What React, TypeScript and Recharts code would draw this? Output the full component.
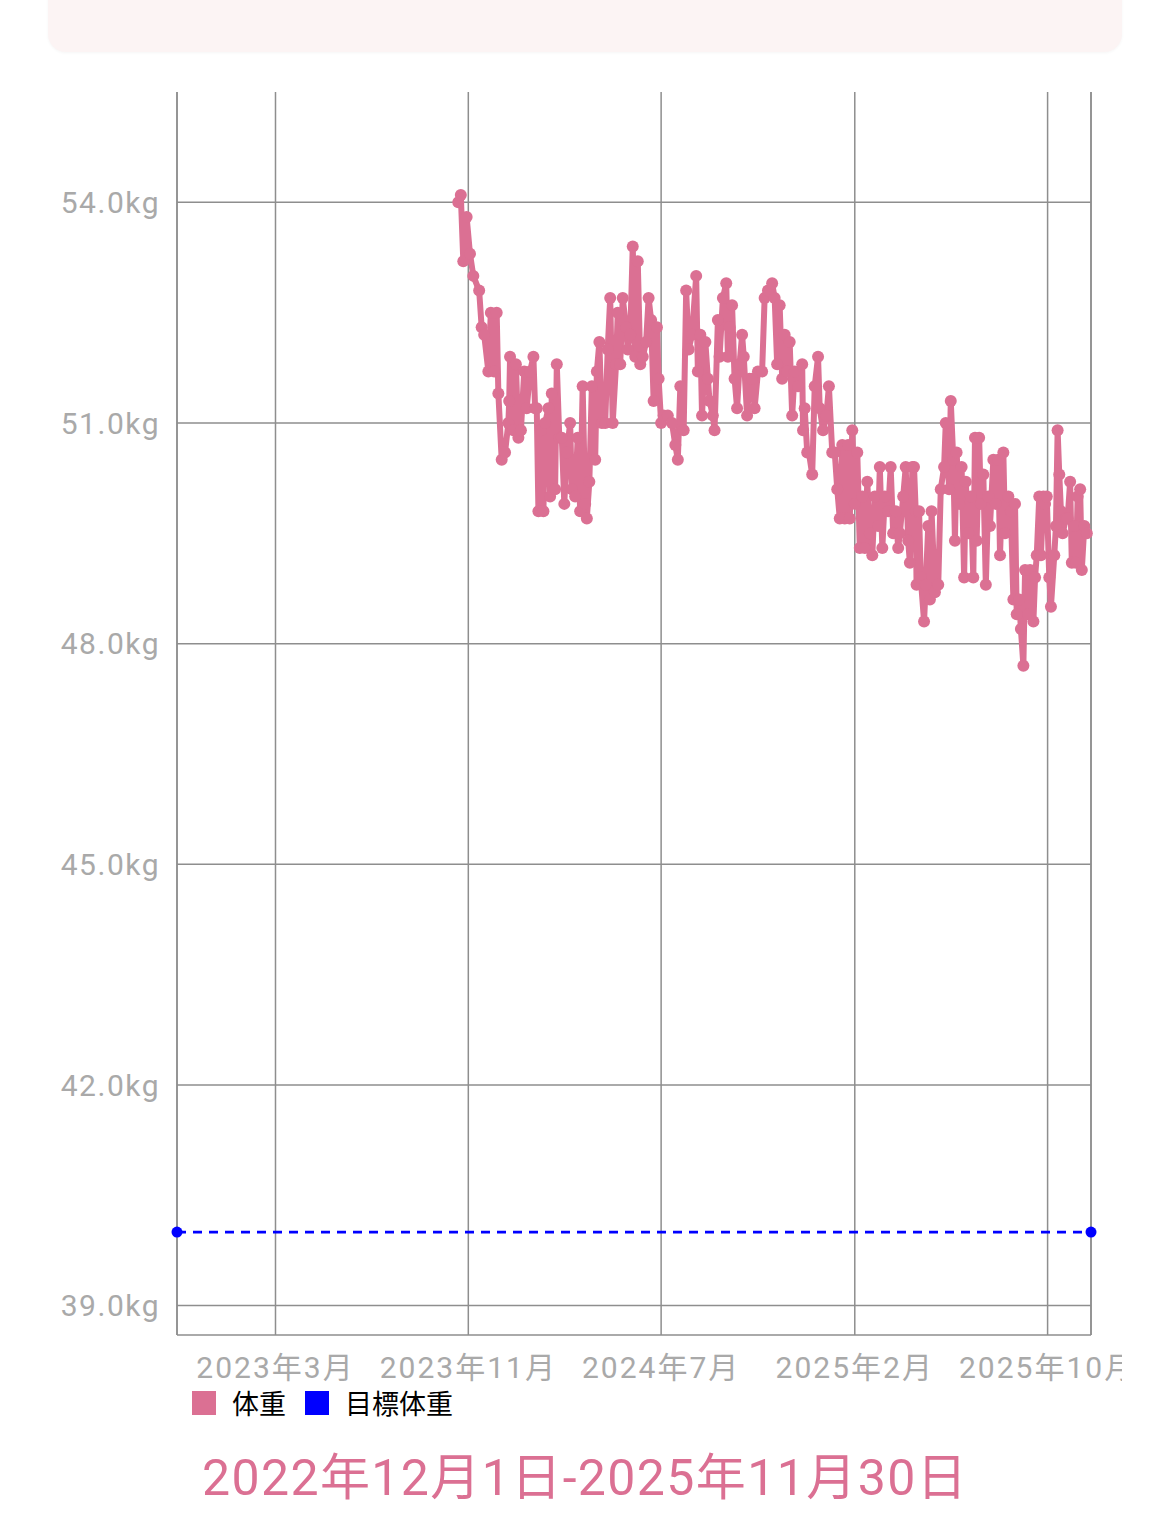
import React from "react";
import {
  LineChart,
  Line,
  XAxis,
  YAxis,
  CartesianGrid,
  ReferenceLine,
} from "recharts";

// days counted from 2022-12-01 (start of the range)
const rangeEnd = 1095;

const weightDays = [
  337, 340, 343, 347, 351, 355, 362, 365, 368, 373,
  376, 380, 383, 385, 389, 393, 397, 398, 399, 403,
  406, 409, 412, 416, 419, 423, 427, 429, 431, 433,
  436, 439, 441, 445, 447, 449, 453, 455, 458, 461,
  464, 467, 471, 473, 477, 480, 483, 486, 489, 491,
  494, 497, 501, 503, 506, 509, 513, 516, 519, 522,
  526, 528, 531, 534, 538, 540, 543, 546, 549, 552,
  555, 558, 562, 565, 568, 571, 575, 577, 580, 583,
  588, 593, 597, 600, 603, 607, 610, 613, 617, 622,
  624, 627, 629, 633, 636, 638, 642, 644, 648, 650,
  654, 658, 660, 662, 665, 668, 671, 674, 677, 679,
  683, 686, 689, 692, 696, 701, 704, 708, 713, 716,
  719, 722, 725, 728, 731, 734, 737, 740, 744, 749,
  750, 752, 755, 757, 761, 764, 768, 770, 774, 778,
  781, 785, 788, 791, 794, 797, 800, 804, 806, 809,
  812, 815, 818, 821, 824, 827, 830, 833, 836, 840,
  842, 845, 848, 852, 855, 858, 861, 864, 866, 870,
  873, 876, 878, 881, 883, 885, 886, 889, 891, 895,
  897, 900, 902, 904, 908, 912, 915, 919, 921, 925,
  927, 930, 932, 934, 937, 940, 943, 945, 948, 951,
  954, 956, 958, 961, 963, 966, 969, 972, 974, 978,
  981, 984, 986, 990, 992, 996, 999, 1002, 1004, 1006,
  1009, 1011, 1014, 1016, 1020, 1022, 1026, 1028, 1030, 1033,
  1035, 1038, 1040, 1042, 1045, 1047, 1051, 1053, 1055, 1057,
  1059, 1061, 1065, 1067, 1070, 1072, 1075, 1077, 1079, 1082,
  1084, 1087, 1090,
];

const weightKg = [
  54.0, 54.1, 53.2, 53.8, 53.3, 53.0, 52.8, 52.3, 52.2, 51.7,
  52.5, 51.7, 52.5, 51.4, 50.5, 50.6, 51.0, 51.3, 51.9, 50.9,
  51.8, 50.8, 50.9, 51.7, 51.2, 51.7, 51.9, 51.2, 51.2, 49.8,
  50.9, 49.8, 51.0, 51.2, 50.0, 51.4, 50.1, 51.8, 50.8, 50.8,
  49.9, 50.6, 51.0, 50.1, 50.0, 50.8, 49.8, 51.5, 49.9, 49.7,
  50.2, 51.5, 50.5, 51.7, 52.1, 51.0, 51.0, 52.0, 52.7, 51.0,
  51.8, 52.5, 51.8, 52.7, 52.3, 52.0, 52.2, 53.4, 51.9, 53.2,
  51.8, 51.9, 52.1, 52.7, 52.4, 51.3, 52.3, 51.6, 51.0, 51.1,
  51.1, 51.0, 50.7, 50.5, 51.5, 50.9, 52.8, 52.0, 52.2, 53.0,
  51.7, 52.2, 51.1, 52.1, 51.6, 51.3, 51.1, 50.9, 52.4, 51.9,
  52.7, 52.9, 51.9, 52.3, 52.6, 51.6, 51.2, 51.8, 52.2, 51.9,
  51.1, 51.6, 51.6, 51.2, 51.7, 51.7, 52.7, 52.8, 52.9, 52.7,
  51.8, 52.6, 51.6, 52.2, 51.7, 52.1, 51.1, 51.7, 51.5, 51.8,
  50.9, 51.2, 50.6, 50.6, 50.3, 51.5, 51.9, 51.2, 50.9, 51.1,
  51.5, 50.6, 50.6, 50.1, 49.7, 50.7, 49.7, 50.7, 49.7, 50.9,
  49.9, 50.6, 49.3, 50.0, 49.3, 50.2, 49.5, 49.2, 50.0, 49.6,
  50.4, 49.3, 50.0, 49.8, 50.4, 49.5, 49.8, 49.3, 49.5, 50.0,
  50.4, 49.4, 49.1, 50.4, 50.4, 49.8, 48.8, 49.8, 48.9, 48.3,
  48.8, 49.6, 48.6, 49.8, 48.7, 48.8, 50.1, 50.4, 51.0, 50.1,
  51.3, 50.5, 49.4, 50.6, 49.9, 50.4, 48.9, 50.2, 49.5, 50.0,
  48.9, 50.8, 49.4, 50.8, 49.9, 50.3, 48.8, 50.0, 49.6, 50.5,
  49.9, 50.5, 49.2, 50.6, 49.5, 50.0, 49.8, 48.6, 49.9, 48.4,
  48.6, 48.2, 47.7, 49.0, 48.4, 49.0, 48.3, 48.9, 49.2, 50.0,
  49.2, 50.0, 49.9, 50.0, 48.9, 48.5, 49.2, 49.6, 50.9, 50.3,
  49.8, 49.5, 49.7, 49.7, 50.2, 49.1, 49.6, 49.1, 50.0, 50.1,
  49.0, 49.6, 49.5,
];

const goalDays = [0, rangeEnd];
const goalKg = [40.0, 40.0];

const xTicks = [118, 349, 580, 812, 1043];
const xTickLabels = ["2023年3月", "2023年11月", "2024年7月", "2025年2月", "2025年10月"];
const yTicks = [39, 42, 45, 48, 51, 54];

const weightData = weightDays.map((d, i) => ({ day: d, kg: weightKg[i] }));
const goalData = goalDays.map((d, i) => ({ day: d, kg: goalKg[i] }));

const PINK = "#DB7093";
const BLUE = "#0000FF";
const GRID = "#8e8e8e";
const FONT = 'Roboto, "Noto Sans CJK JP", sans-serif';

export default function App() {
  return (
    <div
      style={{
        position: "absolute",
        left: 0,
        top: 0,
        width: 1170,
        height: 1526,
        background: "#fff",
        fontFamily: FONT,
        overflow: "hidden",
      }}
    >
      {/* top card edge */}
      <div
        style={{
          position: "absolute",
          left: 48,
          top: -20,
          width: 1074,
          height: 72,
          borderRadius: 18,
          background: "#fcf4f4",
          boxShadow: "0 1px 3px rgba(0,0,0,0.04)",
        }}
      />

      <div style={{ position: "absolute", left: 48, top: 72 }}>
        <LineChart
          width={1074}
          height={1323}
          margin={{ top: 20, right: 31, bottom: 0, left: 0 }}
        >
          <CartesianGrid stroke={GRID} strokeWidth={1.5} horizontal={false} />
          <XAxis
            dataKey="day"
            type="number"
            domain={[0, rangeEnd]}
            ticks={xTicks}
            interval={0}
            height={60}
            tickFormatter={(v) => xTickLabels[xTicks.indexOf(v)]}
            tick={{ fill: "#a9a9a9", fontSize: 30, fontFamily: FONT, letterSpacing: 2 }}
            tickLine={false}
            tickSize={0}
            tickMargin={22}
            axisLine={{ stroke: GRID, strokeWidth: 1.5 }}
          />
          <YAxis
            dataKey="kg"
            type="number"
            domain={[38.6, 55.5]}
            ticks={yTicks}
            width={129}
            tickFormatter={(v) => v.toFixed(1) + "kg"}
            tick={{ fill: "#a9a9a9", fontSize: 30, fontFamily: FONT, letterSpacing: 1.5 }}
            tickLine={false}
            tickSize={0}
            tickMargin={17}
            axisLine={{ stroke: GRID, strokeWidth: 1.5 }}
          />
          {yTicks.map((t) => (
            <ReferenceLine key={t} y={t} stroke={GRID} strokeWidth={1.5} />
          ))}
          <ReferenceLine x={rangeEnd} stroke={GRID} strokeWidth={1.5} />
          <Line
            data={goalData}
            dataKey="kg"
            stroke={BLUE}
            strokeWidth={2.8}
            strokeDasharray="9 7"
            dot={{ r: 5.5, fill: BLUE, stroke: "none" }}
            isAnimationActive={false}
          />
          <Line
            data={weightData}
            dataKey="kg"
            stroke={PINK}
            strokeWidth={6}
            strokeLinejoin="round"
            dot={{ r: 6, fill: PINK, stroke: "none" }}
            isAnimationActive={false}
          />
        </LineChart>
      </div>

      {/* legend */}
      <div
        style={{
          position: "absolute",
          left: 192,
          top: 1383,
          display: "flex",
          alignItems: "center",
          fontSize: 27,
          color: "#000",
        }}
      >
        <span style={{ width: 24, height: 24, background: PINK, marginRight: 16 }} />
        <span style={{ marginRight: 19 }}>体重</span>
        <span style={{ width: 24, height: 24, background: BLUE, marginRight: 16 }} />
        <span>目標体重</span>
      </div>

      {/* date range title */}
      <div
        style={{
          position: "absolute",
          left: 0,
          top: 1448,
          width: 1170,
          textAlign: "center",
          fontSize: 50,
          lineHeight: "60px",
          letterSpacing: 1.4,
          color: PINK,
        }}
      >
        2022年12月1日-2025年11月30日
      </div>
    </div>
  );
}
